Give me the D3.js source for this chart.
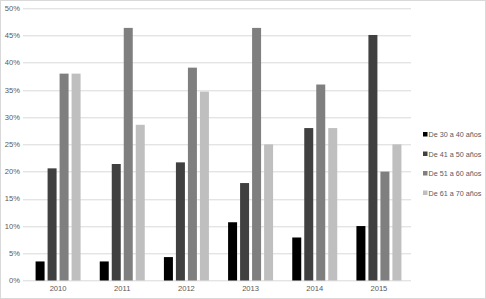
<!DOCTYPE html>
<html>
<head>
<meta charset="utf-8">
<script src="https://cdn.jsdelivr.net/npm/d3@7"></script>
<style>
  body { margin: 0; background: #fff; }
  svg { display: block; font-family: "Liberation Sans", Arial, sans-serif; }
</style>
</head>
<body>
<div id="chart"></div>
<script>
// data
var years = ["2010", "2011", "2012", "2013", "2014", "2015"];
var seriesNames = ["De 30 a 40 años", "De 41 a 50 años", "De 51 a 60 años", "De 61 a 70 años"];
var age30to40 = [3.5, 3.5, 4.3, 10.7, 7.9, 10];
var age41to50 = [20.6, 21.4, 21.7, 17.9, 28, 45.1];
var age51to60 = [38, 46.4, 39.1, 46.4, 36, 20];
var age61to70 = [38, 28.6, 34.7, 25, 28, 25];
var yTicks = [0, 5, 10, 15, 20, 25, 30, 35, 40, 45, 50];
var colors = ["#000000", "#404040", "#7f7f7f", "#bfbfbf"];

var allSeries = [age30to40, age41to50, age51to60, age61to70];

var W = 486, H = 299;
var margin = {top: 8.3, right: 75, bottom: 18.5, left: 26};
var width = W - margin.left - margin.right;
var height = H - margin.top - margin.bottom;

var svg = d3.select("#chart").append("svg")
    .attr("width", W)
    .attr("height", H);

// outer frame
svg.append("rect")
    .attr("x", 0.5).attr("y", 0.5)
    .attr("width", W - 1).attr("height", H - 1)
    .attr("fill", "none")
    .attr("stroke", "#d9d9d9");

var g = svg.append("g")
    .attr("transform", "translate(" + margin.left + "," + margin.top + ")");

var x = d3.scaleBand()
    .domain(years)
    .range([0, width]);

var y = d3.scaleLinear()
    .domain([0, 50])
    .range([height, 0]);

var barW = 9, barStep = 12;

// gridlines
g.append("g")
    .selectAll("line")
    .data(yTicks)
    .enter()
    .append("line")
    .attr("x1", -3)
    .attr("x2", width)
    .attr("y1", d => Math.round(y(d)) + 0.5)
    .attr("y2", d => Math.round(y(d)) + 0.5)
    .attr("stroke", "#d9d9d9")
    .attr("stroke-width", 1);

// y labels
g.append("g")
    .selectAll("text")
    .data(yTicks)
    .enter()
    .append("text")
    .attr("x", -6)
    .attr("y", d => y(d))
    .attr("dy", "0.35em")
    .attr("text-anchor", "end")
    .attr("font-size", "7.6px")
    .attr("fill", "#595959")
    .text(d => d + "%");

// bars
allSeries.forEach(function(vals, s) {
    g.append("g")
        .selectAll("rect")
        .data(vals)
        .enter()
        .append("rect")
        .attr("x", (d, i) => x(years[i]) + x.bandwidth() / 2 - 1.5 * barStep - barW / 2 + s * barStep)
        .attr("width", barW)
        .attr("y", d => y(d))
        .attr("height", d => height - y(d))
        .attr("fill", colors[s]);
});

// x labels
g.append("g")
    .selectAll("text")
    .data(years)
    .enter()
    .append("text")
    .attr("x", d => x(d) + x.bandwidth() / 2)
    .attr("y", height + 11)
    .attr("text-anchor", "middle")
    .attr("font-size", "7.6px")
    .attr("fill", "#595959")
    .text(d => d);

// legend
var legend = svg.append("g")
    .selectAll("g")
    .data(seriesNames)
    .enter()
    .append("g")
    .attr("transform", (d, i) => "translate(423," + (134.5 + i * 19.5) + ")");

legend.append("rect")
    .attr("x", 0)
    .attr("y", -2.5)
    .attr("width", 4.5)
    .attr("height", 4.5)
    .attr("fill", (d, i) => colors[i]);

legend.append("text")
    .attr("x", 5.5)
    .attr("y", 0)
    .attr("dy", "0.35em")
    .attr("font-size", "7.2px")
    .attr("fill", "#595959")
    .text(d => d);
</script>
</body>
</html>
